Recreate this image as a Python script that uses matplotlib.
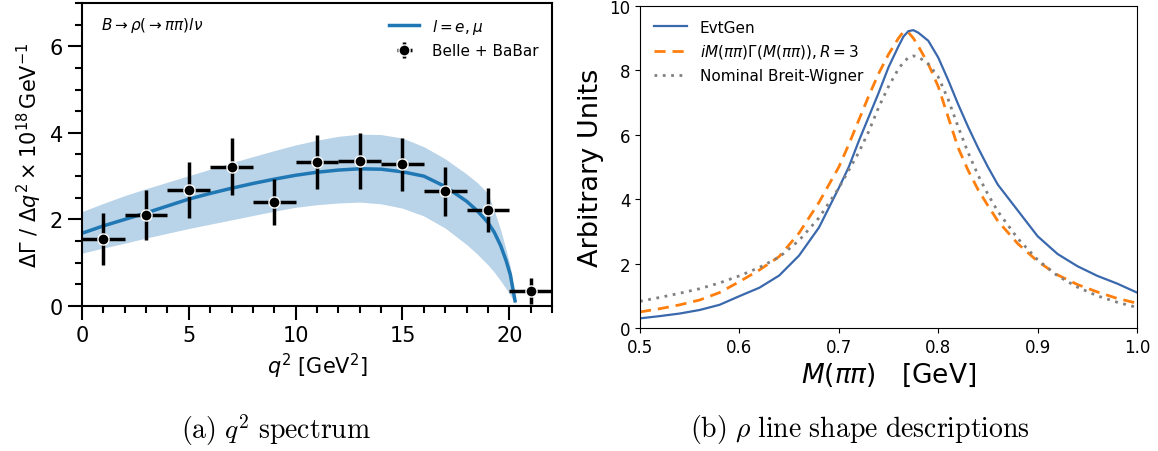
import numpy as np
import matplotlib
matplotlib.use("Agg")
import matplotlib.pyplot as plt
from matplotlib.ticker import MultipleLocator

# ===================== DATOS (a): espectro q^2 =====================
q2_bins = [1, 3, 5, 7, 9, 11, 13, 15, 17, 19, 21]
rate    = [1.55, 2.10, 2.68, 3.22, 2.40, 3.33, 3.35, 3.27, 2.65, 2.22, 0.35]
rate_err = [0.60, 0.58, 0.64, 0.65, 0.54, 0.63, 0.64, 0.62, 0.56, 0.51, 0.30]
bin_half = [1.0] * len(q2_bins)

q2_curve = [0, 1, 2, 3, 4, 5, 6, 7, 8, 9, 10, 11, 12, 13, 14, 15, 16, 17, 18, 18.5, 19,
            19.3, 19.6, 19.85, 20.05, 20.27]
fit_mid  = [1.68, 1.85, 2.00, 2.15, 2.31, 2.47, 2.60, 2.72, 2.83, 2.93, 3.02, 3.09, 3.14, 3.17,
            3.16, 3.10, 3.00, 2.76, 2.42, 2.20, 1.93, 1.70, 1.39, 1.05, 0.72, 0.12]
fit_up   = [2.18, 2.37, 2.55, 2.71, 2.86, 3.01, 3.16, 3.31, 3.45, 3.59, 3.72, 3.83, 3.92, 3.97,
            3.96, 3.88, 3.68, 3.40, 3.05, 2.85, 2.60, 2.20, 1.75, 1.30, 0.90, 0.20]
fit_lo   = [1.22, 1.34, 1.45, 1.57, 1.68, 1.79, 1.89, 1.99, 2.09, 2.19, 2.28, 2.34, 2.38, 2.40,
            2.36, 2.26, 2.08, 1.80, 1.42, 1.20, 0.95, 0.78, 0.58, 0.40, 0.25, 0.05]

# ===================== DATOS (b): forma de linea rho =====================
m_pipi = [0.50, 0.52, 0.54, 0.56, 0.58, 0.60, 0.62, 0.64, 0.66, 0.68, 0.70, 0.71, 0.72, 0.73,
          0.74, 0.75, 0.76, 0.765, 0.77, 0.775, 0.78, 0.79, 0.80, 0.81, 0.82, 0.83, 0.84, 0.85,
          0.86, 0.88, 0.90, 0.92, 0.94, 0.96, 0.98, 1.00]
evtgen = [0.30, 0.37, 0.45, 0.56, 0.72, 0.99, 1.25, 1.63, 2.25, 3.12, 4.35, 5.00, 5.80, 6.55,
          7.30, 8.10, 8.75, 9.05, 9.22, 9.25, 9.17, 8.92, 8.40, 7.70, 6.95, 6.25, 5.60, 5.00,
          4.45, 3.65, 2.85, 2.30, 1.92, 1.62, 1.38, 1.10]
imgamma = [0.50, 0.60, 0.72, 0.87, 1.10, 1.44, 1.80, 2.22, 2.95, 3.90, 5.00, 5.70, 6.45, 7.20,
           7.90, 8.50, 9.00, 9.20, 9.18, 9.00, 8.75, 8.20, 7.50, 6.55, 5.60, 4.90, 4.30, 3.80,
           3.32, 2.62, 2.07, 1.65, 1.35, 1.12, 0.92, 0.77]
breit_wigner = [0.83, 0.95, 1.08, 1.22, 1.40, 1.62, 1.88, 2.20, 2.72, 3.42, 4.35, 4.90, 5.45, 6.10,
                6.85, 7.50, 8.05, 8.25, 8.40, 8.45, 8.42, 8.20, 7.80, 7.10, 6.25, 5.45, 4.75, 4.15,
                3.62, 2.78, 2.12, 1.62, 1.27, 1.00, 0.80, 0.64]

# ===================== FIGURA =====================
fig = plt.figure(figsize=(11.58, 4.52), dpi=100)
ax1 = fig.add_axes([0.0708, 0.3208, 0.4059, 0.6704])
ax2 = fig.add_axes([0.5527, 0.2721, 0.4292, 0.7124])

# --- (a) ---
ax1.fill_between(q2_curve, fit_lo, fit_up, color="#b9d3e8", lw=0)
ax1.plot(q2_curve, fit_mid, color="#1f77b4", lw=2.5, label=r"$l = e, \mu$")
ax1.errorbar(q2_bins, rate, yerr=rate_err, xerr=bin_half, fmt="o", color="black",
             ms=8, mec="white", mew=1.0, elinewidth=2.5, capsize=0, label="Belle + BaBar",
             clip_on=False, zorder=5)
ax1.set_xlim(0, 22)
ax1.set_ylim(0, 7)
ax1.xaxis.set_major_locator(MultipleLocator(5))
ax1.xaxis.set_minor_locator(MultipleLocator(1))
ax1.yaxis.set_major_locator(MultipleLocator(2))
ax1.yaxis.set_minor_locator(MultipleLocator(0.5))
ax1.tick_params(which="major", length=10, width=1.5, labelsize=15)
ax1.tick_params(which="minor", length=5, width=1.5)
for s in ax1.spines.values():
    s.set_linewidth(1.5)
ax1.set_xlabel(r"$q^2$ [GeV$^2$]", fontsize=15)
ax1.set_ylabel(r"$\Delta\Gamma\ /\ \Delta q^2 \times 10^{18}\,\mathrm{GeV}^{-1}$", fontsize=15)
ax1.text(0.04, 0.93, r"$B \rightarrow \rho(\rightarrow \pi\pi) l \nu$", transform=ax1.transAxes,
         fontsize=11, va="center")
ax1.legend(loc="upper right", frameon=False, fontsize=11, handlelength=2.0)

# --- (b) ---
ax2.plot(m_pipi, evtgen, color="#3a68ad", lw=1.6, label="EvtGen")
ax2.plot(m_pipi, imgamma, color="#ff7f0e", lw=2, ls=(0, (4, 2.5)),
         label=r"$iM(\pi\pi)\Gamma(M(\pi\pi)), R = 3$")
ax2.plot(m_pipi, breit_wigner, color="#808080", lw=2, ls=(0, (1, 2)),
         label="Nominal Breit-Wigner")
ax2.set_xlim(0.5, 1.0)
ax2.set_ylim(0, 10)
ax2.tick_params(labelsize=12)
ax2.set_xlabel(r"$M(\pi\pi)$   [GeV]", fontsize=19)
ax2.set_ylabel("Arbitrary Units", fontsize=19.5)
ax2.legend(loc="upper left", frameon=False, fontsize=11, handlelength=2.2)

# --- subtitulos ---
fig.text(0.2383, 0.049, r"$\mathrm{(a)}\ q^2\ \mathrm{spectrum}$", math_fontfamily="cm",
         fontsize=20, ha="center", va="center")
fig.text(0.7427, 0.049, r"$\mathrm{(b)}\ \rho\ \mathrm{line\ shape\ descriptions}$",
         math_fontfamily="cm", fontsize=20, ha="center", va="center")

fig.savefig("out.png", dpi=100)
